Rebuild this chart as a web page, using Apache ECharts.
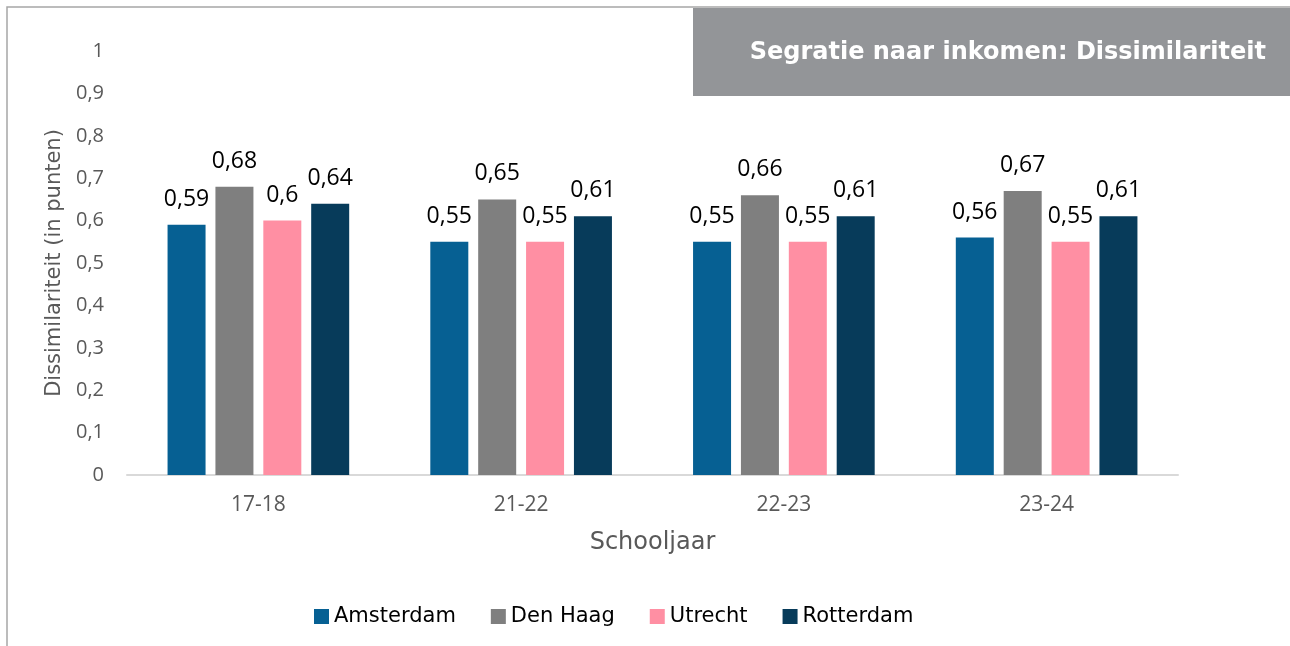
<!DOCTYPE html>
<html>
<head>
<meta charset="utf-8">
<script src="https://cdn.jsdelivr.net/npm/echarts@6/dist/echarts.min.js"></script>
<style>
html,body{margin:0;padding:0;background:#fff;}
#chart{width:1290px;height:646px;}
</style>
</head>
<body>
<div id="chart"></div>
<script>
const categories = ['17-18', '21-22', '22-23', '23-24'];
const amsterdam = [0.59, 0.55, 0.55, 0.56];
const denHaag = [0.68, 0.65, 0.66, 0.67];
const utrecht = [0.6, 0.55, 0.55, 0.55];
const rotterdam = [0.64, 0.61, 0.61, 0.61];
const seriesNames = ['Amsterdam', 'Den Haag', 'Utrecht', 'Rotterdam'];
const seriesColors = ['#066093', '#7f7f7f', '#ff8fa3', '#073b5a'];
const titleText = 'Segratie naar inkomen: Dissimilariteit';

const fmt = v => String(v).replace('.', ',');
const dataSets = [amsterdam, denHaag, utrecht, rotterdam];

const chart = echarts.init(document.getElementById('chart'), null, {renderer: 'canvas'});
chart.setOption({
  backgroundColor: '#ffffff',
  animation: false,
  graphic: [
    {type: 'rect', shape: {x: 7, y: 7, width: 1300, height: 700}, style: {fill: 'none', stroke: '#a6a6a6', lineWidth: 1.5}, z: 0},
    {type: 'rect', shape: {x: 693, y: 8, width: 600, height: 88}, style: {fill: '#939598'}, z: 1},
    {type: 'text', right: 24, top: 41, style: {text: titleText, fill: '#ffffff', font: 'bold 24px "DejaVu Sans"'}, z: 2}
  ],
  legend: {
    data: seriesNames,
    left: 309,
    top: 601,
    itemWidth: 15,
    itemHeight: 15,
    itemGap: 35,
    icon: 'rect',
    textStyle: {fontFamily: 'DejaVu Sans', fontSize: 21, color: '#000'}
  },
  grid: {left: 127, right: 112, top: 51, bottom: 171},
  xAxis: {
    type: 'category',
    data: categories,
    axisLine: {lineStyle: {color: '#d9d9d9', width: 2}},
    axisTick: {show: false},
    axisLabel: {fontFamily: 'Open Sans', fontSize: 21, color: '#595959', margin: 20},
    name: 'Schooljaar',
    nameLocation: 'middle',
    nameGap: 56,
    nameTextStyle: {fontFamily: 'DejaVu Sans', fontSize: 24, color: '#595959'}
  },
  yAxis: {
    type: 'value',
    min: 0,
    max: 1,
    interval: 0.1,
    splitLine: {show: false},
    axisLine: {show: false},
    axisTick: {show: false},
    axisLabel: {fontFamily: 'Open Sans', fontSize: 20, color: '#595959', margin: 23, formatter: v => fmt(Math.round(v * 10) / 10)},
    name: 'Dissimilariteit (in punten)',
    nameLocation: 'middle',
    nameGap: 53,
    nameTextStyle: {fontFamily: 'DejaVu Sans', fontSize: 21, color: '#595959'}
  },
  series: seriesNames.map((name, i) => ({
    name: name,
    type: 'bar',
    data: dataSets[i],
    barWidth: 38,
    barGap: '26%',
    itemStyle: {color: seriesColors[i]},
    label: {
      show: true,
      position: 'top',
      distance: 14,
      fontFamily: 'Open Sans',
      fontSize: 23,
      color: '#000',
      formatter: p => fmt(p.value)
    }
  }))
});
</script>
</body>
</html>
